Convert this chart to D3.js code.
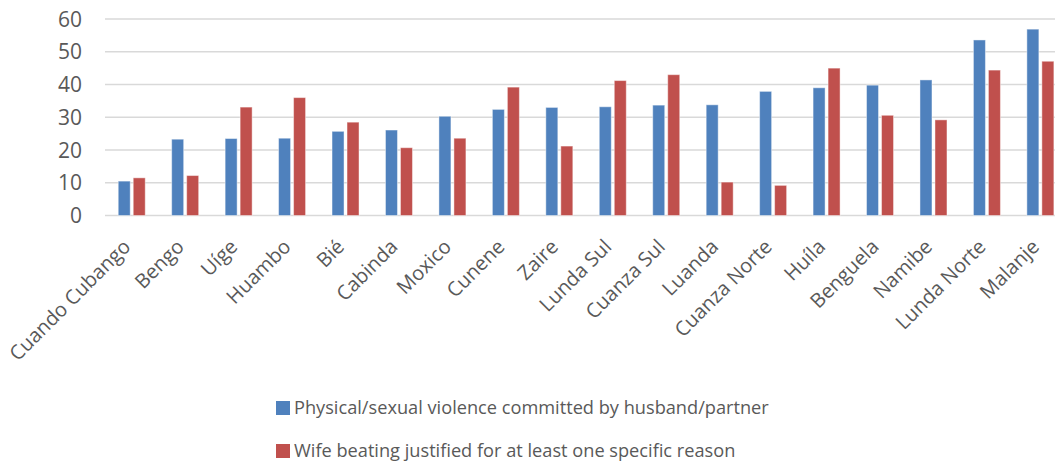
<!DOCTYPE html>
<html>
<head>
<meta charset="utf-8">
<script src="https://d3js.org/d3.v7.min.js"></script>
<style>
body { margin: 0; background: #fff; }
svg text { font-family: "Open Sans", sans-serif; fill: #595959; }
</style>
</head>
<body>
<svg width="1055" height="464"></svg>
<script>
// data
var provinces = ["Cuando Cubango", "Bengo", "Uíge", "Huambo", "Bié", "Cabinda", "Moxico", "Cunene", "Zaire",
  "Lunda Sul", "Cuanza Sul", "Luanda", "Cuanza Norte", "Huíla", "Benguela", "Namibe", "Lunda Norte", "Malanje"];
var violence = [10.5, 23.3, 23.5, 23.6, 25.7, 26.1, 30.3, 32.4, 33.0, 33.2, 33.7, 33.8, 37.9, 39.0, 39.8, 41.4, 53.6, 56.9];
var beating = [11.5, 12.2, 33.1, 36.0, 28.5, 20.7, 23.6, 39.2, 21.2, 41.2, 43.0, 10.2, 9.2, 45.0, 30.6, 29.2, 44.4, 47.1];
var seriesNames = ["Physical/sexual violence committed by husband/partner", "Wife beating justified for at least one specific reason"];
var yTicks = [0, 10, 20, 30, 40, 50, 60];

var colors = ["#4f81bd", "#c0504d"];
var svg = d3.select("svg");

var plotLeft = 105, step = 53.45;
var x = d3.scaleBand()
    .domain(provinces)
    .range([plotLeft, plotLeft + step * provinces.length]);

var y = d3.scaleLinear()
    .domain([0, 60])
    .range([215.5, 19]);

var x1 = d3.scaleBand()
    .domain([0, 1])
    .range([0, 27])
    .paddingInner(0.2);

// gridlines
svg.append("g")
  .selectAll("line")
  .data(yTicks)
  .join("line")
    .attr("x1", plotLeft)
    .attr("x2", 1055)
    .attr("y1", function(d) { return y(d); })
    .attr("y2", function(d) { return y(d); })
    .attr("stroke", "#d9d9d9")
    .attr("stroke-width", 1.5);

// y labels
svg.append("g")
  .selectAll("text")
  .data(yTicks)
  .join("text")
    .attr("x", 82)
    .attr("y", function(d) { return y(d); })
    .attr("dy", "0.36em")
    .attr("text-anchor", "end")
    .style("font-size", "21px")
    .text(function(d) { return d; });

var rows = provinces.map(function(p, i) { return { name: p, vals: [violence[i], beating[i]] }; });
var off = (x.bandwidth() - 27) / 2;

var groups = svg.append("g")
  .selectAll("g")
  .data(rows)
  .join("g")
    .attr("transform", function(d) { return "translate(" + (x(d.name) + off) + ",0)"; });

groups.selectAll("rect")
  .data(function(d) { return d.vals.map(function(v, k) { return { k: k, v: v }; }); })
  .join("rect")
    .attr("x", function(d) { return x1(d.k); })
    .attr("width", x1.bandwidth())
    .attr("y", function(d) { return y(d.v); })
    .attr("height", function(d) { return y(0) - y(d.v); })
    .attr("fill", function(d) { return colors[d.k]; })
    .attr("stroke", "rgba(255,255,255,0.45)")
    .attr("stroke-width", 1);

// category labels
svg.append("g")
  .selectAll("text")
  .data(provinces)
  .join("text")
    .attr("transform", function(d) { return "translate(" + (x(d) + x.bandwidth() / 2) + ",248) rotate(-45)"; })
    .attr("text-anchor", "end")
    .style("font-size", "20px")
    .text(function(d) { return d; });

// legend
var legend = svg.append("g")
  .selectAll("g")
  .data(seriesNames)
  .join("g")
    .attr("transform", function(d, i) { return "translate(276," + (408 + i * 43) + ")"; });

legend.append("rect")
    .attr("y", -7)
    .attr("width", 14)
    .attr("height", 14)
    .attr("fill", function(d, i) { return colors[i]; });

legend.append("text")
    .attr("x", 18)
    .attr("dy", "0.35em")
    .style("font-size", "18.2px")
    .text(function(d) { return d; });
</script>
</body>
</html>
